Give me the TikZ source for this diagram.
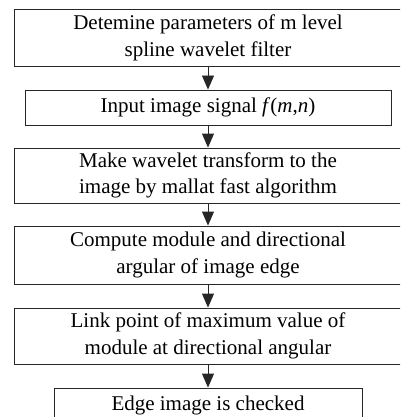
\documentclass[tikz,border=0pt]{standalone}
\usepackage{fontspec}
\setmainfont{Liberation Serif}
\usetikzlibrary{arrows.meta}
\begin{document}
\begin{tikzpicture}[x=1pt,y=-1pt,
  stepbox/.style={draw=black!85, line width=0.9pt, align=center, inner sep=0pt,
    font=\fontsize{21}{26.5}\selectfont, minimum width=388pt},
  flow/.style={draw=black!85, line width=0.9pt, -{Triangle[width=12pt,length=14pt]}}]
\clip (0,0) rectangle (400,417);
\useasboundingbox (0,0) rectangle (400,417);
\node[stepbox, minimum height=56.5pt] (b1) at (208,37.75) {Detemine parameters of m level\\spline wavelet filter};
\node[stepbox, minimum height=35pt, minimum width=366pt] (b2) at (208,107.5) {Input image signal \textit{f}(\textit{m},\textit{n})};
\node[stepbox, minimum height=55pt] (b3) at (208,175.5) {Make wavelet transform to the\\image by mallat fast algorithm};
\node[stepbox, minimum height=58pt] (b4) at (208,255) {Compute module and directional\\argular of image edge};
\node[stepbox, minimum height=56pt] (b5) at (208,336) {Link point of maximum value of\\module at directional angular};
\node[stepbox, minimum height=35pt, minimum width=308pt] (b6) at (208,405.5) {Edge image is checked};
\draw[flow] (b1) -- (b2);
\draw[flow] (b2) -- (b3);
\draw[flow] (b3) -- (b4);
\draw[flow] (b4) -- (b5);
\draw[flow] (b5) -- (b6);
\end{tikzpicture}
\end{document}
